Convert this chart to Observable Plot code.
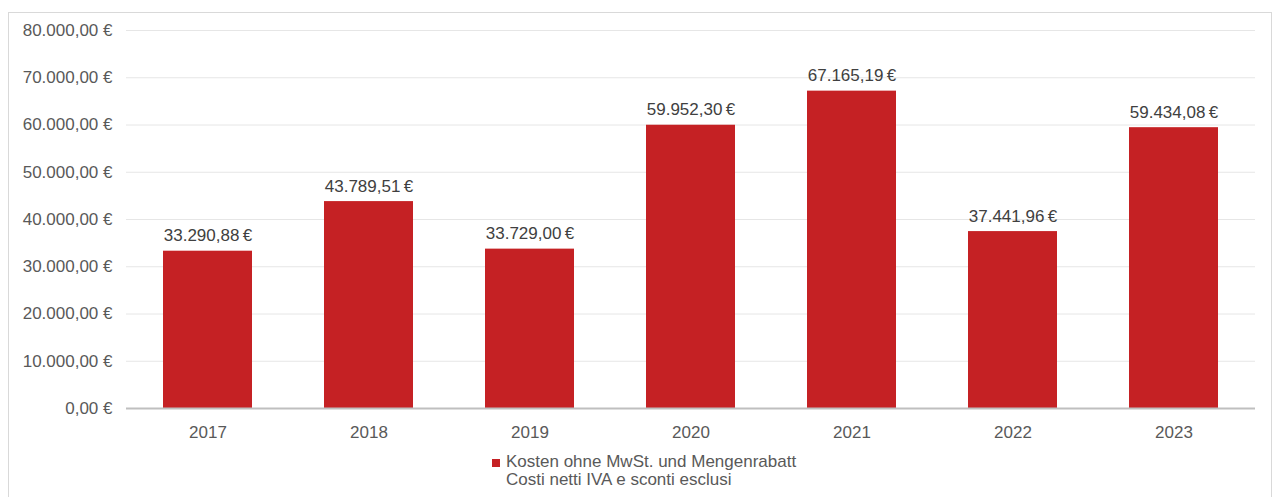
<!DOCTYPE html>
<html>
<head>
<meta charset="utf-8">
<script src="https://cdn.jsdelivr.net/npm/d3@7"></script>
<script src="https://cdn.jsdelivr.net/npm/@observablehq/plot@0.6"></script>
<style>
  html, body { margin: 0; padding: 0; background: #fff; }
  body { width: 1272px; height: 497px; overflow: hidden; position: relative; font-family: "Liberation Sans", Arial, sans-serif; }
  #frame { position: absolute; left: 8px; top: 12px; width: 1262px; height: 520px; border: 1px solid #d9d9d9; box-sizing: content-box; }
  #legend { position: absolute; left: 483px; top: 440px; color: #595959; font-size: 17px; line-height: 18px; }
  #legend .sw { position: absolute; left: 0; top: 6px; width: 8px; height: 8px; background: #c52124; }
  #legend .txt { margin-left: 14px; }
</style>
</head>
<body>
<div id="frame">
  <div id="chart"></div>
  <div id="legend"><span class="sw"></span><div class="txt">Kosten ohne MwSt. und Mengenrabatt<br>Costi netti IVA e sconti esclusi</div></div>
</div>
<script>
const years = ["2017", "2018", "2019", "2020", "2021", "2022", "2023"];
const costs = [33290.88, 43789.51, 33729.00, 59952.30, 67165.19, 37441.96, 59434.08];
const yTicks = [0, 10000, 20000, 30000, 40000, 50000, 60000, 70000, 80000];

const loc = d3.formatLocale({decimal: ",", thousands: ".", grouping: [3], currency: ["", " €"]});
const fmt = loc.format(",.2f");
const euro = v => fmt(v) + " €";
const euroThin = v => fmt(v) + "\u2009€";

const data = years.map((y, i) => ({year: y, value: costs[i]}));
const barColor = "#c52124";

const chart = Plot.plot({
  width: 1262,
  height: 430,
  marginLeft: 117,
  marginRight: 16,
  marginTop: 17,
  marginBottom: 35,
  style: {fontFamily: "'Liberation Sans', Arial, sans-serif", fontSize: "17px", color: "#595959", background: "transparent"},
  x: {domain: years, paddingInner: 0.448, paddingOuter: 0.224, label: null},
  y: {domain: [0, 80000], label: null},
  marks: [
    Plot.gridY(yTicks, {stroke: "#e6e6e6", strokeOpacity: 1}),
    Plot.axisY(yTicks, {tickSize: 0, tickPadding: 14, tickFormat: euro, label: null, fill: "#595959", fontSize: 17}),
    Plot.axisX({tickSize: 0, tickPadding: 17, label: null, fill: "#595959", fontSize: 17}),
    Plot.barY(data, {x: "year", y: "value", fill: barColor}),
    Plot.ruleY([0], {stroke: "#bfbfbf", strokeWidth: 2}),
    Plot.text(data, {x: "year", y: "value", text: d => euroThin(d.value), lineAnchor: "bottom", dy: -10, fill: "#404040", fontSize: 17})
  ]
});
document.getElementById("chart").appendChild(chart);
</script>
</body>
</html>
